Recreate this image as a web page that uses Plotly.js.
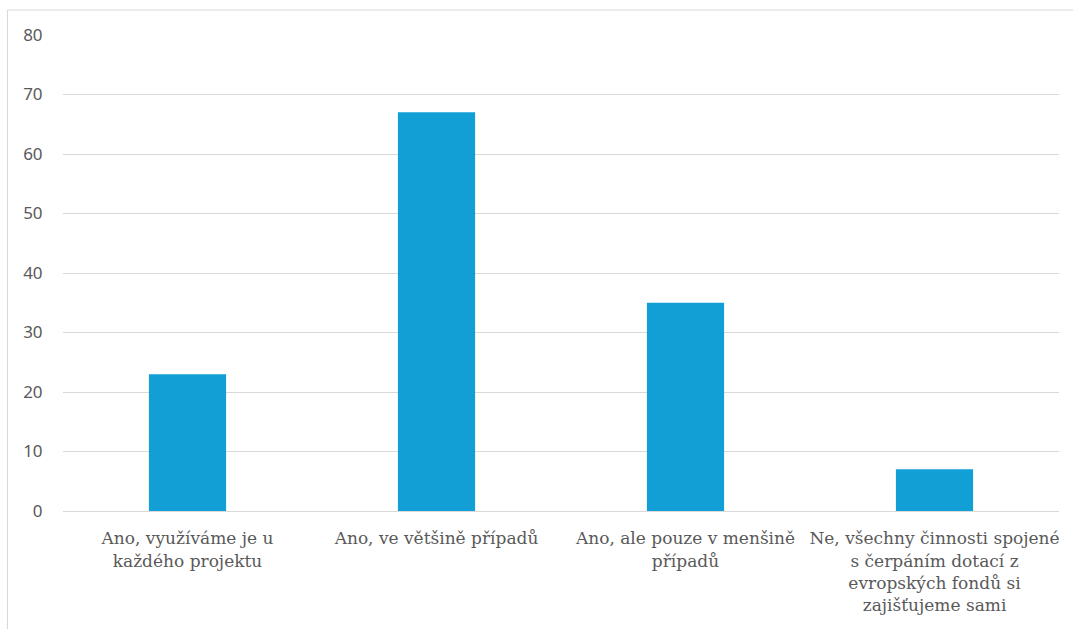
<!DOCTYPE html>
<html>
<head>
<meta charset="utf-8">
<script src="https://cdn.plot.ly/plotly-3.0.1.min.js"></script>
<style>html,body{margin:0;padding:0;background:#fff;}#chart{width:1073px;height:629px;}</style>
</head>
<body>
<div id="chart"></div>
<script>
const categories = [
  "Ano, využíváme je u<br>každého projektu",
  "Ano, ve většině případů",
  "Ano, ale pouze v menšině<br>případů",
  "Ne, všechny činnosti spojené<br>s čerpáním dotací z<br>evropských fondů si<br>zajišťujeme sami"
];
const values = [23, 67, 35, 7];
const yTicks = [0, 10, 20, 30, 40, 50, 60, 70, 80];

const trace = {
  type: 'bar',
  x: categories,
  y: values,
  marker: {color: '#119fd6'},
  hoverinfo: 'x+y'
};

const layout = {
  width: 1073,
  height: 629,
  margin: {l: 63, r: 14, t: 35, b: 118},
  paper_bgcolor: '#ffffff',
  plot_bgcolor: '#ffffff',
  bargap: 0.69,
  showlegend: false,
  xaxis: {
    type: 'category',
    tickfont: {family: 'DejaVu Serif', size: 17, color: '#595959'},
    ticks: 'outside', ticklen: 12, tickcolor: 'rgba(0,0,0,0)',
    showgrid: false,
    showline: false,
    zeroline: false
  },
  yaxis: {
    range: [0, 80],
    tickvals: yTicks,
    ticktext: yTicks.map(String),
    tickfont: {family: 'Noto Sans', size: 17, color: '#595959'},
    ticks: 'outside', ticklen: 16, tickcolor: 'rgba(0,0,0,0)',
    showgrid: true, gridcolor: '#d9d9d9', gridwidth: 1,
    zeroline: true, zerolinecolor: '#d9d9d9', zerolinewidth: 1,
    showline: false
  },
  shapes: [{
    type: 'rect', xref: 'paper', yref: 'paper',
    x0: -0.0557, x1: 1.1, y0: -0.3, y1: 1.0525,
    line: {color: '#d9d9d9', width: 1}, fillcolor: 'rgba(0,0,0,0)', layer: 'below'
  }]
};

Plotly.newPlot('chart', [trace], layout, {displayModeBar: false, staticPlot: true});
</script>
</body>
</html>
